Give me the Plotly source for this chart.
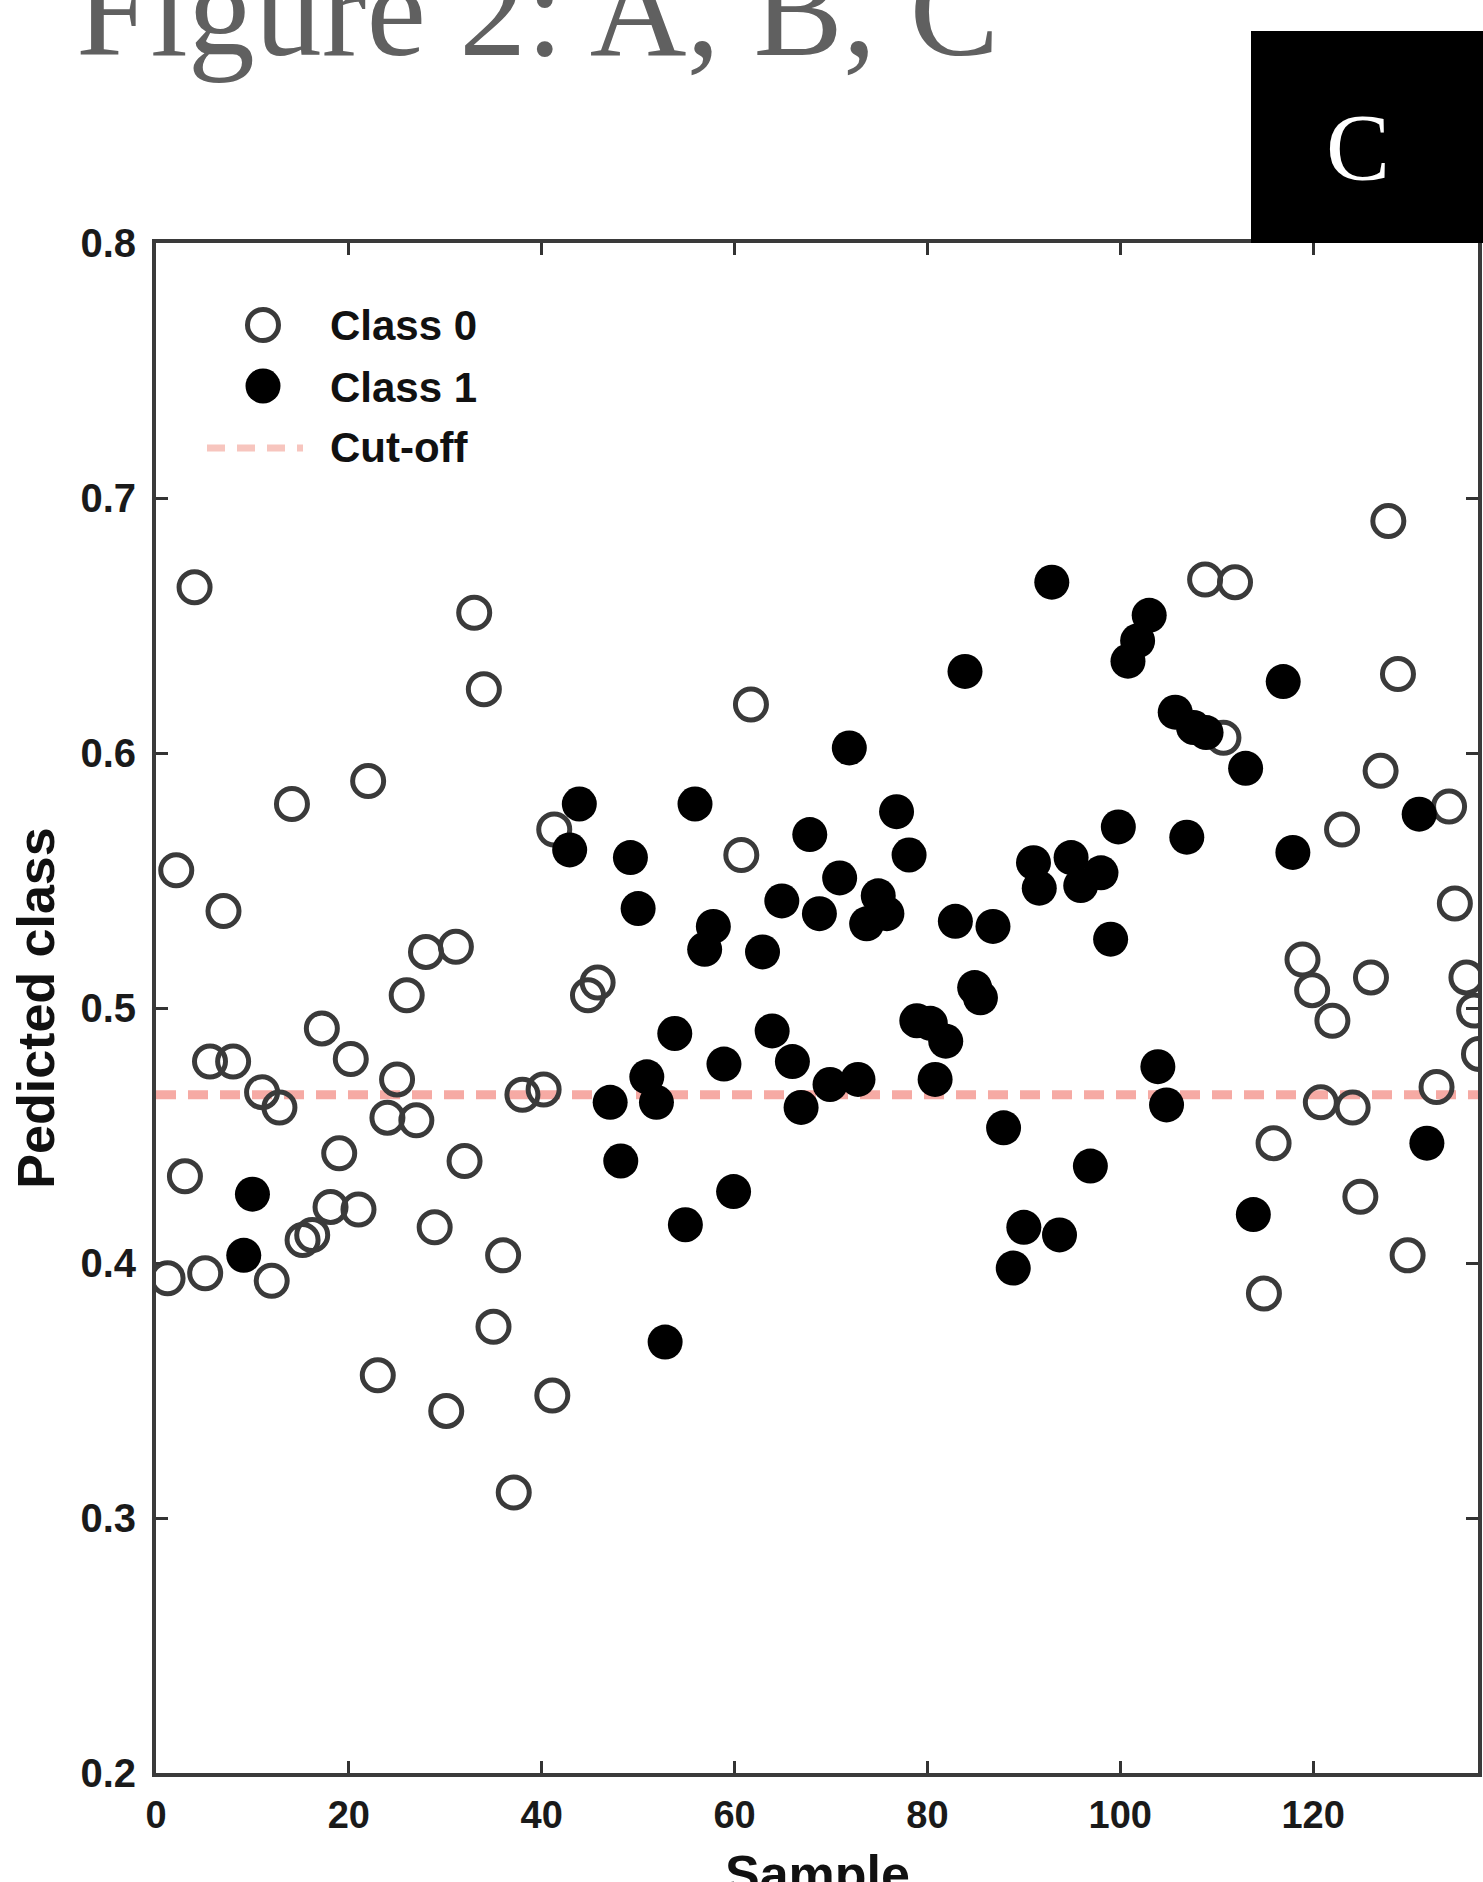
import plotly.graph_objects as go

# ---- data ----
class0_x = [1.2, 2.1, 3.0, 4.0, 5.1, 5.6, 7.0, 8.0, 11.0, 12.0, 12.8, 14.1, 15.2, 16.2, 17.2,
            18.1, 19.0, 20.2, 21.0, 22.0, 23.0, 24.0, 25.0, 26.0, 27.0, 28.0, 28.9, 30.1, 31.1,
            32.0, 33.0, 34.0, 35.0, 36.0, 37.1, 38.0, 40.2, 41.1, 41.3, 44.8, 45.8, 60.7, 61.7,
            108.8, 111.9, 110.7, 114.9, 115.9, 118.9, 119.9, 122.0, 120.8, 123.0, 124.1, 124.9,
            126.0, 127.0, 127.8, 128.8, 129.8, 132.8, 134.1, 134.7, 135.9, 136.7, 137.2]
class0_y = [0.394, 0.554, 0.434, 0.665, 0.396, 0.479, 0.538, 0.479, 0.467, 0.393, 0.461, 0.580,
            0.409, 0.411, 0.492, 0.422, 0.443, 0.480, 0.421, 0.589, 0.356, 0.457, 0.472, 0.505,
            0.456, 0.522, 0.414, 0.342, 0.524, 0.440, 0.655, 0.625, 0.375, 0.403, 0.310, 0.466,
            0.468, 0.348, 0.570, 0.505, 0.510, 0.560, 0.619, 0.668, 0.667, 0.606, 0.388, 0.447,
            0.519, 0.507, 0.495, 0.463, 0.570, 0.461, 0.426, 0.512, 0.593, 0.691, 0.631, 0.403,
            0.469, 0.579, 0.541, 0.512, 0.499, 0.482]

class1_x = [9.1, 10.0, 43.9, 42.9, 47.1, 48.2, 49.2, 50.0, 50.9, 51.9, 52.8, 53.8, 54.9, 55.9,
            56.9, 57.8, 58.9, 59.9, 62.9, 63.9, 64.9, 66.0, 66.9, 67.8, 68.8, 69.9, 70.9, 71.9,
            72.8, 73.7, 74.9, 75.8, 76.8, 78.1, 78.9, 80.3, 80.8, 81.9, 82.9, 83.9, 84.9, 85.5,
            86.8, 87.9, 88.9, 90.0, 91.0, 91.6, 92.9, 93.7, 94.9, 95.9, 96.9, 98.0, 99.0, 99.8,
            100.8, 101.8, 103.0, 103.9, 104.8, 105.7, 106.9, 107.6, 108.9, 113.0, 113.8, 116.9,
            117.9, 131.0, 131.8]
class1_y = [0.403, 0.427, 0.580, 0.562, 0.463, 0.440, 0.559, 0.539, 0.473, 0.463, 0.369, 0.490,
            0.415, 0.580, 0.523, 0.532, 0.478, 0.428, 0.522, 0.491, 0.542, 0.479, 0.461, 0.568,
            0.537, 0.470, 0.551, 0.602, 0.472, 0.533, 0.544, 0.537, 0.577, 0.560, 0.495, 0.494,
            0.472, 0.487, 0.534, 0.632, 0.508, 0.504, 0.532, 0.453, 0.398, 0.414, 0.557, 0.547,
            0.667, 0.411, 0.559, 0.548, 0.438, 0.553, 0.527, 0.571, 0.636, 0.644, 0.654, 0.477,
            0.462, 0.616, 0.567, 0.610, 0.608, 0.594, 0.419, 0.628, 0.561, 0.576, 0.447]

cutoff = 0.466
x_ticks = [0, 20, 40, 60, 80, 100, 120]
y_ticks = [0.2, 0.3, 0.4, 0.5, 0.6, 0.7, 0.8]
legend_labels = ["Class 0", "Class 1", "Cut-off"]

# ---- figure geometry (pixels) ----
W, H = 1483, 1882
L, R, T, B = 156, 5, 243, 109
PW, PH = W - L - R, H - T - B


def px(xp):
    return (xp - L) / PW


def py(yp):
    return (H - B - yp) / PH


SANS = "Liberation Sans"
SERIF = "Liberation Serif"
CUT_COLOR = "rgba(240,118,108,0.62)"

fig = go.Figure()
fig.add_trace(go.Scatter(
    x=class0_x, y=class0_y, mode="markers", name=legend_labels[0],
    marker=dict(symbol="circle-open", size=31, color="#3a3a3a", line=dict(width=5, color="#3a3a3a")),
))
fig.add_trace(go.Scatter(
    x=class1_x, y=class1_y, mode="markers", name=legend_labels[1],
    marker=dict(symbol="circle", size=35, color="#000000", line=dict(width=0)),
))

shapes = [
    # cut-off line
    dict(type="line", xref="paper", x0=0, x1=1, yref="y", y0=cutoff, y1=cutoff,
         line=dict(color=CUT_COLOR, width=9, dash="20px,12px"), layer="below"),
    # black panel box
    dict(type="rect", xref="paper", yref="paper", x0=px(1251), x1=px(1490), y0=py(243), y1=py(31),
         fillcolor="black", line=dict(width=0), layer="above"),
    # legend symbols
    dict(type="circle", xref="paper", yref="paper", xsizemode="pixel", ysizemode="pixel",
         xanchor=px(263), yanchor=py(325), x0=-15.5, x1=15.5, y0=-15.5, y1=15.5,
         line=dict(color="#3a3a3a", width=5), fillcolor="rgba(0,0,0,0)"),
    dict(type="circle", xref="paper", yref="paper", xsizemode="pixel", ysizemode="pixel",
         xanchor=px(263), yanchor=py(386), x0=-17.5, x1=17.5, y0=-17.5, y1=17.5,
         line=dict(width=0), fillcolor="black"),
    dict(type="line", xref="paper", yref="paper", x0=px(207), x1=px(303), y0=py(448), y1=py(448),
         line=dict(color="rgba(240,140,125,0.5)", width=7, dash="18px,12px")),
]

annotations = [
    dict(text="Figure 2: A, B, C", xref="paper", yref="paper", x=px(74), y=py(86),
         xanchor="left", yanchor="bottom", showarrow=False,
         font=dict(family=SERIF, size=134, color="#606060")),
    dict(text="C", xref="paper", yref="paper", x=px(1358), y=py(147),
         xanchor="center", yanchor="middle", showarrow=False,
         font=dict(family=SERIF, size=96, color="white")),
    # x-axis title (cut by the bottom edge, as in the original scan)
    dict(text="Sample", xref="paper", yref="paper", x=0.5, y=py(1843),
         xanchor="center", yanchor="top", showarrow=False,
         font=dict(family=SANS, size=52, color="#111111", weight="bold")),
]
for lbl, ypix in zip(legend_labels, [325, 387, 448]):
    annotations.append(dict(text=lbl, xref="paper", yref="paper", x=px(328), y=py(ypix),
                            xanchor="left", yanchor="middle", showarrow=False,
                            font=dict(family=SANS, size=42, color="#111111", weight="bold")))

fig.update_layout(
    width=W, height=H,
    margin=dict(l=L, r=R, t=T, b=B, autoexpand=False),
    paper_bgcolor="white", plot_bgcolor="white",
    showlegend=False,
    shapes=shapes, annotations=annotations,
    font=dict(family=SANS, color="#111111"),
)
fig.update_xaxes(
    range=[0, 137.1], tickvals=x_ticks, ticktext=[str(v) for v in x_ticks],
    ticks="inside", ticklen=12, tickwidth=3, tickcolor="#333333",
    showline=True, linewidth=4, linecolor="#3a3a3a", mirror="ticks",
    showgrid=False, zeroline=False, ticklabelstandoff=5,
    tickfont=dict(family=SANS, size=38, color="#1a1a1a", weight="bold"),
    automargin=False,
)
fig.update_yaxes(
    range=[0.2, 0.8], tickvals=y_ticks, ticktext=[f"{v:.1f}" for v in y_ticks],
    ticks="inside", ticklen=12, tickwidth=3, tickcolor="#333333",
    showline=True, linewidth=4, linecolor="#3a3a3a", mirror="ticks",
    showgrid=False, zeroline=False, ticklabelstandoff=8,
    tickfont=dict(family=SANS, size=40, color="#1a1a1a", weight="bold"),
    title=dict(text="Pedicted class", standoff=10, font=dict(family=SANS, size=52, color="#111111", weight="bold")),
    automargin=False,
)

fig.write_html("out.html",
               config={"displayModeBar": False},
               post_script="document.body.style.margin='0';document.body.style.overflow='hidden';")
